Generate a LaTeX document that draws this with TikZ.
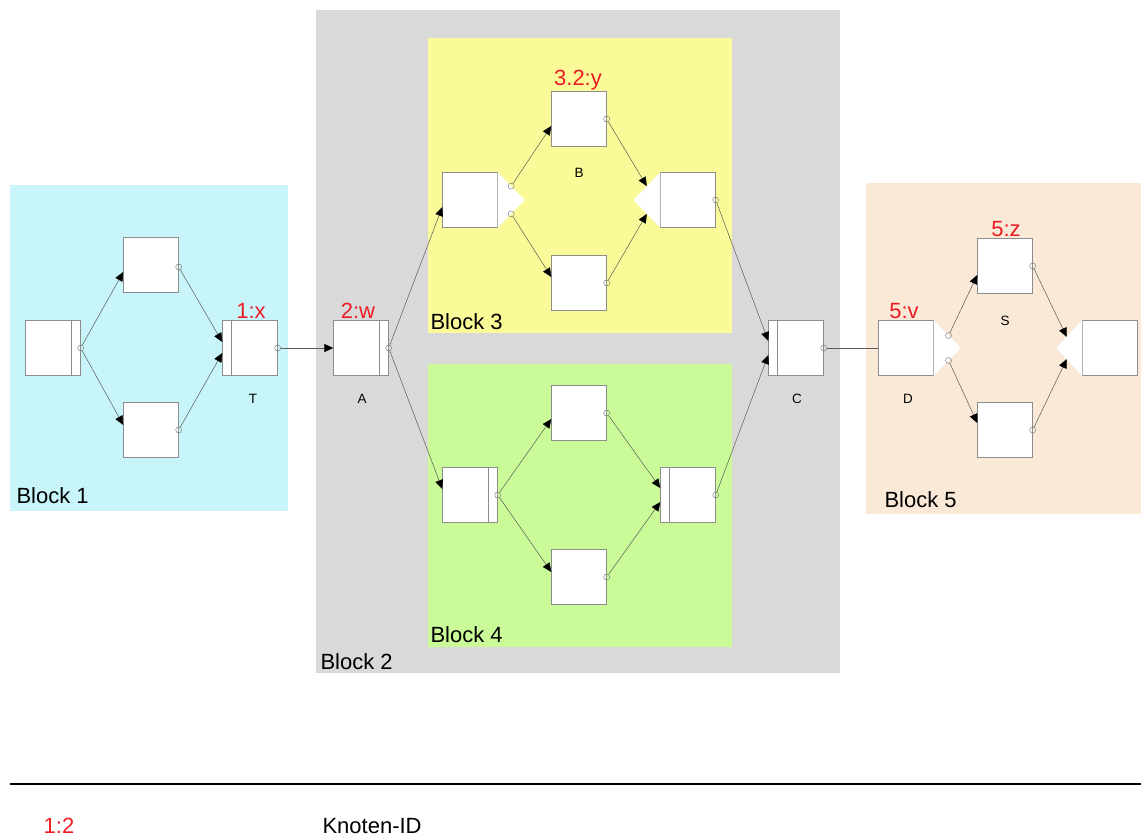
\documentclass[tikz,border=0pt]{standalone}
\usepackage{fontspec}
\setmainfont{Liberation Sans}
\usetikzlibrary{arrows.meta,calc}
\definecolor{bgcyan}{HTML}{C8F5FA}
\definecolor{bggrey}{HTML}{D9D9D9}
\definecolor{bgyellow}{HTML}{FAFA98}
\definecolor{bggreen}{HTML}{CBFB98}
\definecolor{bgpeach}{HTML}{FBE9D7}
\definecolor{idred}{HTML}{ED1C24}
\definecolor{edge}{HTML}{8C8C8C}

\begin{document}
\begin{tikzpicture}[x=1pt,y=-1pt,>={Triangle[length=9pt,width=8pt,color=black]},
 box/.style={draw=edge,fill=white,minimum size=55pt,inner sep=0pt},
 barL/.style={box,path picture={\draw[edge] ([xshift=9pt]path picture bounding box.north west) -- ([xshift=9pt]path picture bounding box.south west);}},
 barR/.style={box,path picture={\draw[edge] ([xshift=-9pt]path picture bounding box.north east) -- ([xshift=-9pt]path picture bounding box.south east);}},
 wire/.style={draw=black!65,line width=.5pt,shorten <=3pt},
 port/.style={draw=black!55,line width=.4pt},
 tag/.style={text=idred,font=\fontsize{22}{25}\selectfont},
 lbl/.style={font=\fontsize{13.5}{15}\selectfont},
 blocklabel/.style={anchor=west,font=\fontsize{22}{25}\selectfont}]
 \useasboundingbox (0,0) rectangle (1141,837);
 % block areas
 \fill[bgcyan] (10,185) rectangle (288,511);
 \fill[bggrey] (316,10) rectangle (840,673);
 \fill[bgyellow] (428,38) rectangle (732,333);
 \fill[bggreen] (428,364) rectangle (732,647);
 \fill[bgpeach] (866,183) rectangle (1141,514);

 % block 1
 \node[barR] (l1) at (53,348) {};
 \node[box] (u1) at (151,265) {};
 \node[box] (d1) at (151,430) {};
 \node[barL] (t) at (250,348) {};
 % block 2
 \node[barR] (a) at (361,348) {};
 \node[barL] (c) at (796,348) {};
 % block 3
 \node[box] (b3l) at (470,200) {};
 \node[box] (b) at (579,119) {};
 \node[box] (b3d) at (579,283) {};
 \node[box] (b3r) at (688,200) {};
 % block 4
 \node[barR] (b4l) at (470,495) {};
 \node[box] (b4u) at (579,413) {};
 \node[box] (b4d) at (579,577) {};
 \node[barL] (b4r) at (688,495) {};
 % block 5
 \node[box] (d) at (906,348) {};
 \node[box] (s) at (1005,266) {};
 \node[box] (s2) at (1005,430) {};
 \node[box] (r5) at (1110,348) {};

 % split / join tips
 \coordinate (b3l-tip) at ($(b3l.east)+(27,0)$);
 \coordinate (b3r-tip) at ($(b3r.west)+(-27,0)$);
 \coordinate (d-tip) at ($(d.east)+(27,0)$);
 \coordinate (r5-tip) at ($(r5.west)+(-26,0)$);
 \fill[white] (b3l.north east) -- (b3l-tip) -- (b3l.south east) -- cycle;
 \fill[white] (b3r.north west) -- (b3r-tip) -- (b3r.south west) -- cycle;
 \fill[white] (d.north east) -- (d-tip) -- (d.south east) -- cycle;
 \fill[white] (r5.north west) -- (r5-tip) -- (r5.south west) -- cycle;
 \coordinate (b3l-o1) at ($(b3l.north east)!.5!(b3l-tip)$);
 \coordinate (b3l-o2) at ($(b3l.south east)!.5!(b3l-tip)$);
 \coordinate (b3r-i1) at ($(b3r.north west)!.5!(b3r-tip)$);
 \coordinate (b3r-i2) at ($(b3r.south west)!.5!(b3r-tip)$);
 \coordinate (d-o1) at ($(d.north east)!.55!(d-tip)$);
 \coordinate (d-o2) at ($(d.south east)!.55!(d-tip)$);
 \coordinate (r5-i1) at ($(r5.north west)!.6!(r5-tip)$);
 \coordinate (r5-i2) at ($(r5.south west)!.6!(r5-tip)$);

 % connections
 \draw[wire,->] (l1.east) -- ([yshift=-7pt]u1.west);
 \draw[wire,->] (l1.east) -- ([yshift=5pt]d1.west);
 \draw[wire,->] ([yshift=-2pt]u1.east) -- ([yshift=6pt]t.west);
 \draw[wire,->] (d1.east) -- ([yshift=-5pt]t.west);
 \draw[wire,->] (t.east) -- (a.west);
 \draw[wire,->] (a.east) -- ([yshift=-7pt]b3l.west);
 \draw[wire,->] (a.east) -- ([yshift=6pt]b4l.west);
 \draw[wire,->] (b3l-o1) -- ([yshift=-7pt]b.west);
 \draw[wire,->] (b3l-o2) -- ([yshift=6pt]b3d.west);
 \draw[wire,->] (b.east) -- (b3r-i1);
 \draw[wire,->] (b3d.east) -- (b3r-i2);
 \draw[wire,->] (b3r.east) -- ([yshift=7pt]c.west);
 \draw[wire,->] (b4l.east) -- ([yshift=-6pt]b4u.west);
 \draw[wire,->] (b4l.east) -- ([yshift=5pt]b4d.west);
 \draw[wire,->] (b4u.east) -- ([yshift=7pt]b4r.west);
 \draw[wire,->] (b4d.east) -- ([yshift=-7pt]b4r.west);
 \draw[wire,->] (b4r.east) -- ([yshift=-7pt]c.west);
 \draw[wire] (c.east) -- (d.west);
 \draw[wire,->] (d-o1) -- ([yshift=-9pt]s.west);
 \draw[wire,->] (d-o2) -- ([yshift=7pt]s2.west);
 \draw[wire,->] (s.east) -- (r5-i1);
 \draw[wire,->] (s2.east) -- (r5-i2);

 % output ports
 \foreach \p in {l1.east,d1.east,t.east,a.east,b.east,b3d.east,b3r.east,
   b4l.east,b4u.east,b4d.east,b4r.east,c.east,s.east,s2.east,
   b3l-o1,b3l-o2,d-o1,d-o2}
   \draw[port] (\p) circle (3);
 \draw[port] ([yshift=-2pt]u1.east) circle (3);

 % ids and names
 \node[tag] (id-t) at (251,311) {1:x};
 \node[tag] (id-a) at (358,311) {2:w};
 \node[tag] (id-b) at (578,80) {3.2:y};
 \node[tag] (id-d) at (904,311) {5:v};
 \node[tag] (id-s) at (1006,229) {5:z};
 \node[lbl] (n-t) at (253,399) {T};
 \node[lbl] (n-a) at (362,399) {A};
 \node[lbl] (n-b) at (579,173) {B};
 \node[lbl] (n-c) at (797,399) {C};
 \node[lbl] (n-d) at (908,399) {D};
 \node[lbl] (n-s) at (1005,321) {S};
 \node[blocklabel] (bl1) at (13,496) {Block 1};
 \node[blocklabel] (bl2) at (317,662) {Block 2};
 \node[blocklabel] (bl3) at (427,322) {Block 3};
 \node[blocklabel] (bl4) at (427,635) {Block 4};
 \node[blocklabel] (bl5) at (881,500) {Block 5};

 % legend
 \draw[line width=2.5pt] (10,784) -- (1141,784);
 \node[tag] (key-id) at (59,826) {1:2};
 \node[blocklabel] (key-txt) at (319,826) {Knoten-ID};
\end{tikzpicture}
\end{document}
